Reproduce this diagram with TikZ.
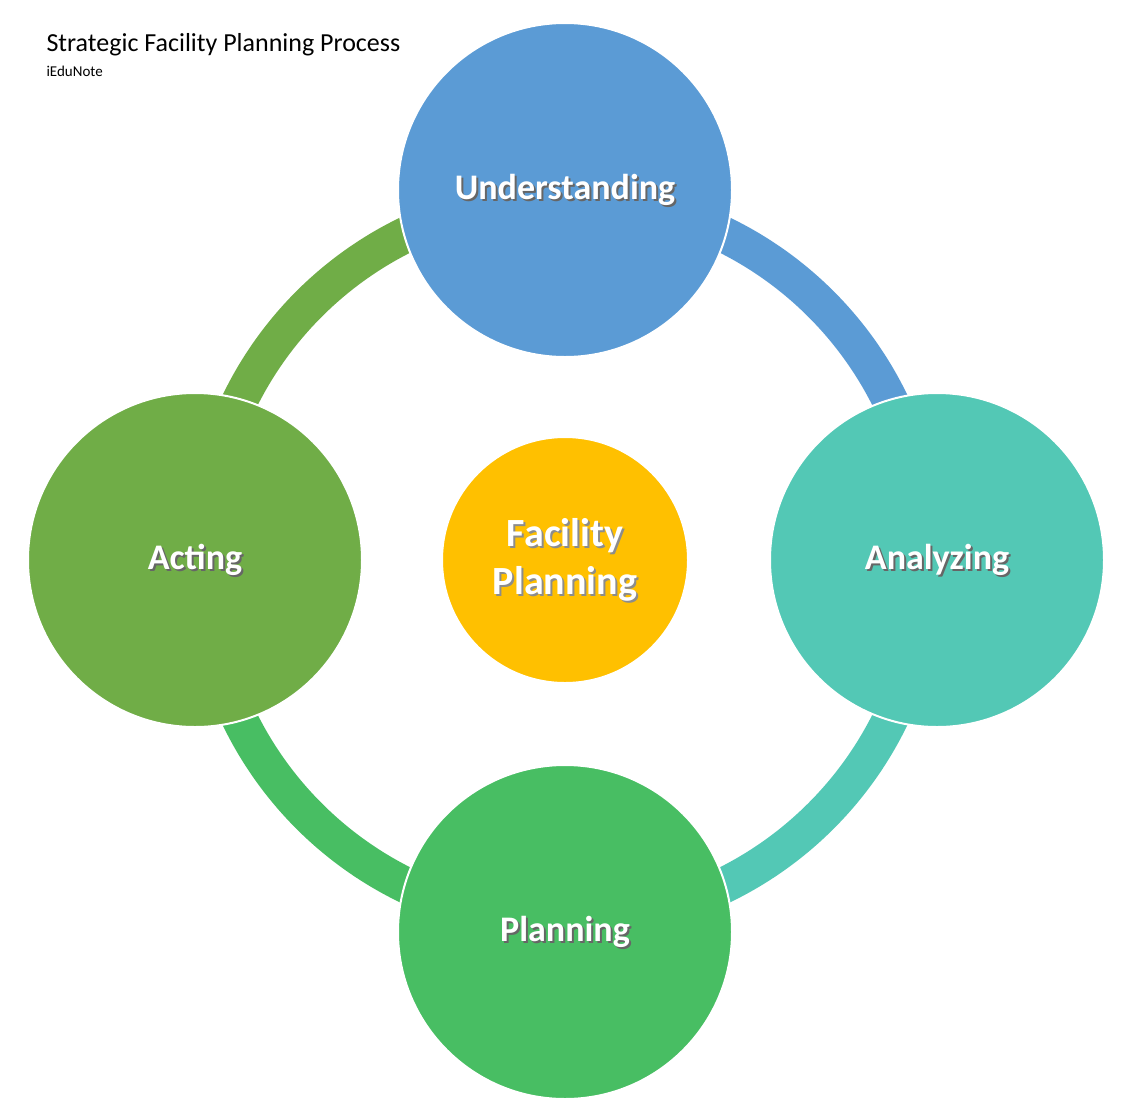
\documentclass[tikz,border=0pt]{standalone}
\usepackage{fontspec}
\setmainfont{Carlito}
\usetikzlibrary{calc}
\definecolor{cblue}{HTML}{5B9BD5}
\definecolor{cteal}{HTML}{53C8B5}
\definecolor{cgreenA}{HTML}{70AD47}
\definecolor{cgreenP}{HTML}{48BE63}
\definecolor{cgold}{HTML}{FFC000}
\begin{document}
\begin{tikzpicture}[x=1pt,y=-1pt,
  stage/.style={circle,draw=white,line width=2pt,minimum size=334pt,inner sep=0pt,text=white,font=\bfseries\fontsize{36}{46}\selectfont,align=center},
  shadowtxt/.style={text=black!60,font=\bfseries\fontsize{36}{46}\selectfont,align=center},
  band/.style={line width=36pt}]
\useasboundingbox (0,0) rectangle (1122,1117);
\coordinate (c) at (565,560);
\draw[band,cgreenP] (565,560) ++(90:362) arc[start angle=90,end angle=180,radius=362];
\draw[band,cteal] (565,560) ++(0:362) arc[start angle=0,end angle=90,radius=362];
\draw[band,cblue] (565,560) ++(0:362) arc[start angle=0,end angle=-90,radius=362];
\draw[band,cgreenA] (565,560) ++(180:362) arc[start angle=180,end angle=270,radius=362];
\foreach \n/\p/\col/\t in {u/{(565,190)}/cblue/Understanding, a/{(937,560)}/cteal/Analyzing, p/{(565,932)}/cgreenP/Planning, ac/{(195,560)}/cgreenA/Acting}{
  \node[stage,fill=\col] (\n) at \p {};
  \node[shadowtxt] at ($(\n)+(2,2)$) {\t};
  \node[stage,draw=none,fill=none,minimum size=0pt] at (\n) {\t};
}
\node[stage,fill=cgold,minimum size=246pt] (f) at (c) {};
\node[shadowtxt,text=black!45,font=\bfseries\fontsize{40}{48}\selectfont] at ($(f)+(2,2)$) {Facility\\Planning};
\node[stage,draw=none,fill=none,minimum size=0pt,font=\bfseries\fontsize{40}{48}\selectfont] at (f) {Facility\\Planning};
\node[anchor=west,font=\fontsize{26}{30}\selectfont] (t) at (43,45) {Strategic Facility Planning Process};
\node[anchor=west,font=\fontsize{15}{17}\selectfont] (s) at (43,71) {iEduNote};
\end{tikzpicture}
\end{document}
